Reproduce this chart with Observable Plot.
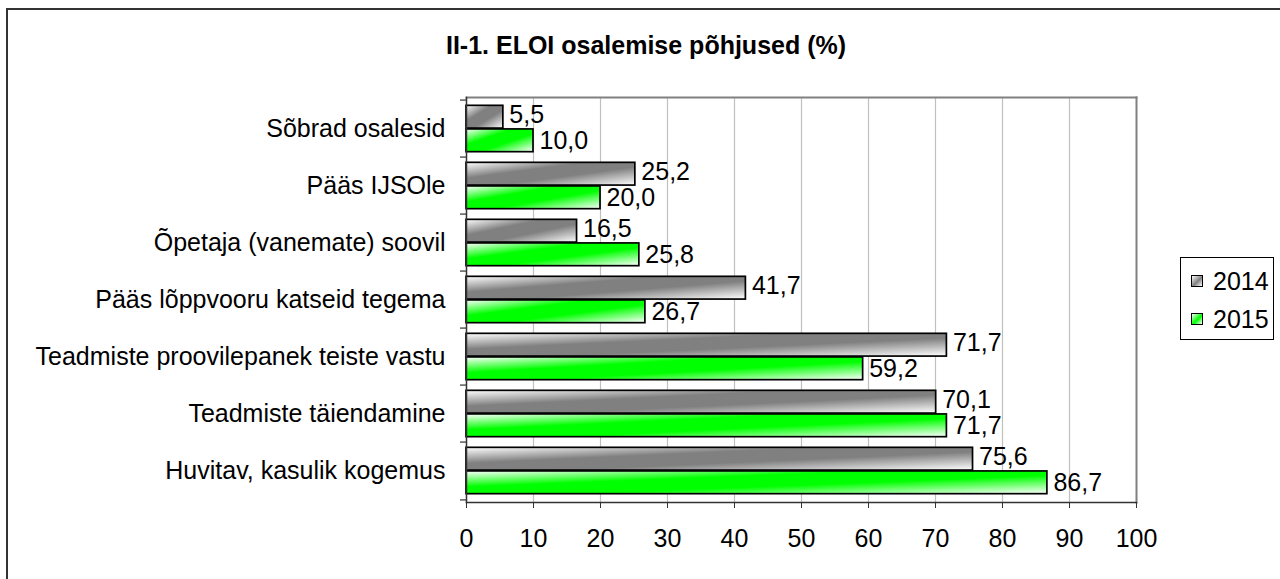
<!DOCTYPE html>
<html>
<head>
<meta charset="utf-8">
<script src="https://cdn.jsdelivr.net/npm/d3@7"></script>
<script src="https://cdn.jsdelivr.net/npm/@observablehq/plot@0.6"></script>
<style>
  html, body { margin: 0; padding: 0; background: #fff; overflow: hidden; }
  body { width: 1280px; height: 579px; position: relative; font-family: "Liberation Sans", Arial, sans-serif; }
  #border { position: absolute; left: 6px; top: 8px; width: 1300px; height: 600px; border-left: 2px solid #333; border-top: 2px solid #333; box-sizing: border-box; }
  #title { position: absolute; left: 6px; width: 1280px; top: 30px; text-align: center; font-weight: bold; font-size: 25px; line-height: 30px; color: #000; }
  #chart { position: absolute; left: 0; top: 0; }
  #legend { position: absolute; left: 1180px; top: 257px; width: 94px; height: 83px; border: 1px solid #000; box-sizing: border-box; background: #fff; }
  .item { position: absolute; left: 10px; font-size: 25px; line-height: 30px; display: flex; align-items: center; }
  .sw { width: 10px; height: 10px; border: 1px solid #000; margin-right: 10px; }
</style>
</head>
<body>
<div id="border"></div>
<div id="chart"></div>
<div id="title">II-1. ELOI osalemise põhjused (%)</div>
<div id="legend"></div>
<script>
const categories = [
  "Sõbrad osalesid",
  "Pääs IJSOle",
  "Õpetaja (vanemate) soovil",
  "Pääs lõppvooru katseid tegema",
  "Teadmiste proovilepanek teiste vastu",
  "Teadmiste täiendamine",
  "Huvitav, kasulik kogemus"
];
const years = ["2014", "2015"];
const values2014 = [5.5, 25.2, 16.5, 41.7, 71.7, 70.1, 75.6];
const values2015 = [10.0, 20.0, 25.8, 26.7, 59.2, 71.7, 86.7];
const xTicks = [0, 10, 20, 30, 40, 50, 60, 70, 80, 90, 100];

const d2014 = categories.map((c, i) => ({category: c, year: years[0], value: values2014[i]}));
const d2015 = categories.map((c, i) => ({category: c, year: years[1], value: values2015[i]}));

const W = 1280, H = 579;
const mL = 466, mR = 144, mT = 97, mB = 77;
const band = (H - mT - mB) / categories.length;
const outer = band * 0.092;
const barH = (band - 2 * outer) / 2;
const fmt = v => d3.format(".1f")(v).replace(".", ",");
const FS = 25;
const half = barH / 2 + (band / 2 - outer - barH);

const plot = Plot.plot({
  width: W, height: H,
  marginLeft: mL, marginRight: mR, marginTop: mT, marginBottom: mB,
  style: {fontFamily: '"Liberation Sans", Arial, sans-serif', fontSize: FS + "px", color: "#000", background: "transparent"},
  x: {domain: [0, 100], label: null},
  y: {domain: categories, padding: 0, label: null},
  marks: [
    Plot.gridX(xTicks.filter(t => t > 0 && t < 100), {stroke: "#c0c0c0", strokeOpacity: 1, strokeWidth: 1.2}),
    Plot.frame({anchor: "top", stroke: "#808080", strokeWidth: 2}),
    Plot.frame({anchor: "right", stroke: "#808080", strokeWidth: 2}),
    Plot.barX(d2014, {x: "value", y: "category", insetTop: outer, insetBottom: band - outer - barH,
      fill: "url(#g2014)", stroke: "#000", strokeWidth: 1.7}),
    Plot.barX(d2015, {x: "value", y: "category", insetTop: outer + barH, insetBottom: outer,
      fill: "url(#g2015)", stroke: "#000", strokeWidth: 1.7}),
    Plot.frame({anchor: "left", stroke: "#333", strokeWidth: 1.5}),
    Plot.frame({anchor: "bottom", stroke: "#333", strokeWidth: 1.5}),
    Plot.ruleY(categories, {y: d => d, x1: 0, x2: 0, insetLeft: -6, dy: -band / 2, stroke: "#333", strokeWidth: 1.2}),
    Plot.ruleY(categories.slice(-1), {y: d => d, x1: 0, x2: 0, insetLeft: -6, dy: band / 2, stroke: "#333", strokeWidth: 1.2}),
    Plot.text(d2014, {x: "value", y: "category", text: d => fmt(d.value), dy: -half - 2, dx: 6,
      textAnchor: "start", fontSize: FS, fill: "#000"}),
    Plot.text(d2015, {x: "value", y: "category", text: d => fmt(d.value), dy: half, dx: 6,
      textAnchor: "start", fontSize: FS, fill: "#000"}),
    Plot.axisX({ticks: xTicks, tickSize: 6, tickPadding: 21, fontSize: FS, stroke: "#333", label: null, tickFormat: d => String(d)}),
    Plot.axisY({tickSize: 0, tickPadding: 21, fontSize: FS, label: null})
  ]
});

// gradient definitions for the bar fills
const svg = d3.select(plot);
const defs = svg.insert("defs", ":first-child");
function grad(id, mid) {
  const g = defs.append("linearGradient").attr("id", id)
    .attr("x1", 0).attr("y1", 0).attr("x2", 1).attr("y2", 1);
  g.append("stop").attr("offset", 0).attr("stop-color", "#ffffff");
  g.append("stop").attr("offset", 0.35).attr("stop-color", mid);
  g.append("stop").attr("offset", 0.6).attr("stop-color", mid);
  g.append("stop").attr("offset", 1).attr("stop-color", "#ffffff");
}
grad("g2014", "#808080");
grad("g2015", "#00ff00");

document.getElementById("chart").appendChild(plot);

// legend
const legend = document.getElementById("legend");
const cols = {"2014": "#808080", "2015": "#00ff00"};
years.forEach((y, i) => {
  const it = document.createElement("div");
  it.className = "item";
  it.style.top = (8 + i * 38) + "px";
  const sw = document.createElement("div");
  sw.className = "sw";
  sw.style.background = `linear-gradient(135deg, #fff 0%, ${cols[y]} 55%, #fff 100%)`;
  it.appendChild(sw);
  const t = document.createElement("span");
  t.textContent = y;
  it.appendChild(t);
  legend.appendChild(it);
});
</script>
</body>
</html>
